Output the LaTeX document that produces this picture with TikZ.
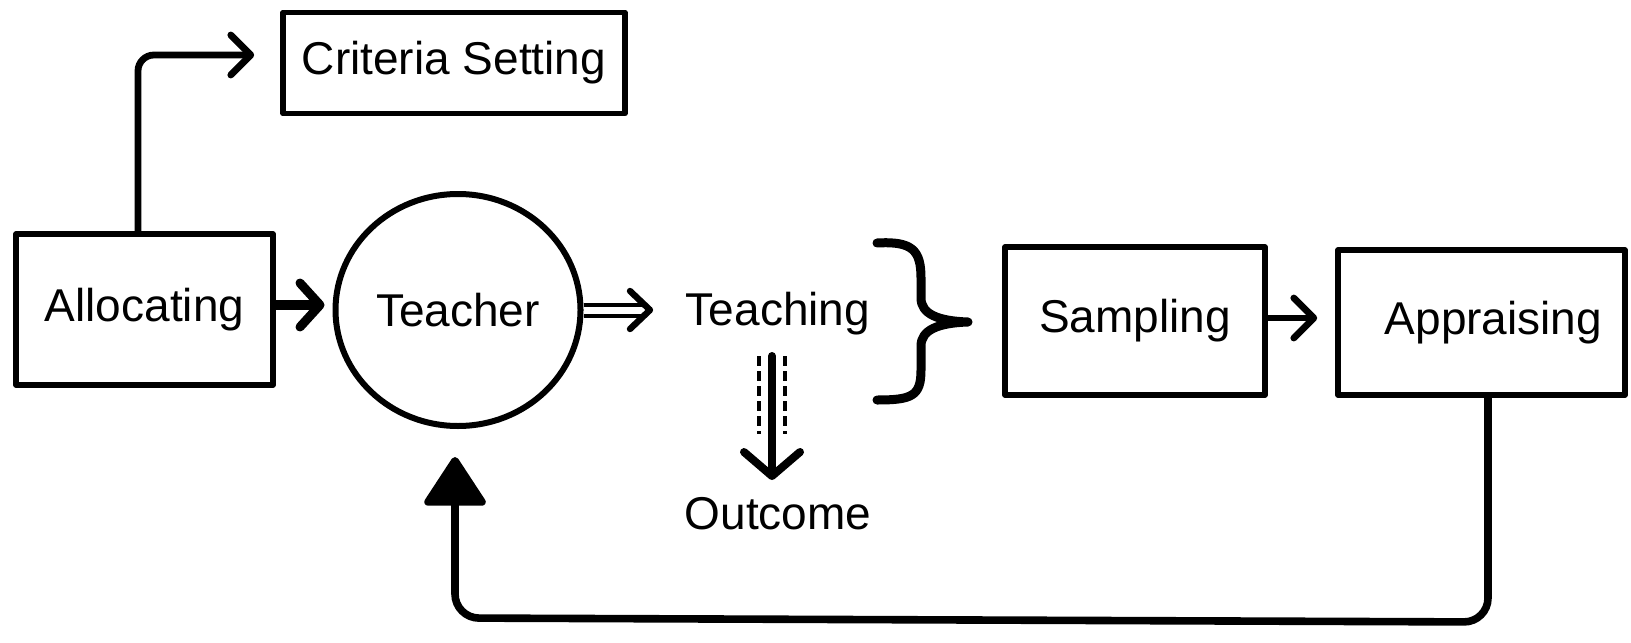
\documentclass[tikz,border=0pt]{standalone}
\usepackage{fontspec}
\setmainfont{Liberation Sans}
\usetikzlibrary{arrows.meta,shapes.geometric,calc}
\begin{document}
\begin{tikzpicture}[x=0.5pt,y=-0.5pt,
  every node/.style={font=\fontsize{23}{27}\selectfont},
  box/.style={draw, line width=2.8pt, rectangle, inner sep=0pt, line join=round},
  txt/.style={inner sep=0pt},
  arr/.style={line width=3.4pt, line cap=round, line join=round,
     -{Straight Barb[length=10pt,width=20pt,line width=3.4pt,round]}},
  bigarr/.style={line width=5pt, line cap=round, line join=round,
     -{Straight Barb[length=10pt,width=22pt,line width=4.5pt,round]}},
  chev/.style={line width=3.2pt, line cap=round, line join=round},
  fb/.style={line width=3.8pt, line cap=round, rounded corners=12pt,
     -{Triangle[length=26pt,width=33pt,round]}},
  brace/.style={line width=4.5pt, line cap=round, line join=round},
]
\useasboundingbox (0,0) rectangle (1631,642);

\node[box, minimum width=171pt, minimum height=50.5pt] (crit) at (454,63) {Criteria Setting};
\node[box, minimum width=128.5pt, minimum height=75.5pt] (alloc) at (144.5,309.5) {Allocating};
\node[draw, ellipse, line width=3pt, inner sep=0pt, minimum width=122.5pt, minimum height=116pt] (teacher) at (458,310) {Teacher};
\node[txt] (teaching) at (778,314) {Teaching};
\node[txt] (outcome) at (778,514) {Outcome};
\node[box, minimum width=130pt, minimum height=74pt] (samp) at (1135,321) {Sampling};
\node[box, minimum width=143.5pt, minimum height=72.5pt] (appr) at (1481.5,322.5) {\hspace*{12pt}Appraising};

% Allocating -> Criteria Setting
\coordinate (cstart) at (alloc.north -| 138,0);
\draw[arr, rounded corners=8pt] (cstart) |- ([xshift=-13pt,yshift=4pt]crit.west);

% Allocating -> Teacher
\draw[bigarr, shorten >=4pt] (alloc.east |- 0,305) -- (teacher.west |- 0,305);

% Teacher -> Teaching (double shaft, chevron head)
\coordinate (dtip) at (650,310);
\draw[double, double distance=3.5pt, line width=2pt] (teacher.east) -- ($(dtip)+(-6,0)$);
\draw[chev] ($(dtip)+(-20,-19)$) -- (dtip) -- ($(dtip)+(-20,19)$);

% Teaching -> Outcome (solid centre, dashed sides)
\coordinate (dtop) at (772,356);
\coordinate (dbot) at (772,480);
\draw[line width=1.8pt, dash pattern=on 5pt off 2.5pt] ($(dtop)+(-13,0)$) -- ($(dtop)+(-13,78)$);
\draw[line width=1.8pt, dash pattern=on 5pt off 2.5pt] ($(dtop)+(13,0)$) -- ($(dtop)+(13,78)$);
\draw[line width=4pt, line cap=round,
  -{Straight Barb[length=12pt,width=28pt,line width=4pt,round]}] (dtop) -- (dbot);

% Brace
\draw[brace] (877,243) .. controls (912,241) and (921,250) .. (921,278) -- (921,298)
  .. controls (921,314) and (938,321) .. (968,322)
  .. controls (938,323) and (921,330) .. (921,346) -- (921,370)
  .. controls (921,396) and (912,400) .. (877,400);

% Sampling -> Appraising
\draw[arr, shorten >=9pt] (samp.east |- 0,318) -- (appr.west |- 0,318);

% Appraising -> Teacher (feedback)
\coordinate (fbstart) at (appr.south -| 1488,0);
\draw[fb, shorten >=14pt] (fbstart) -- (1488,622) -- (455,618) -- (teacher.south -| 455,0);
\end{tikzpicture}
\end{document}
